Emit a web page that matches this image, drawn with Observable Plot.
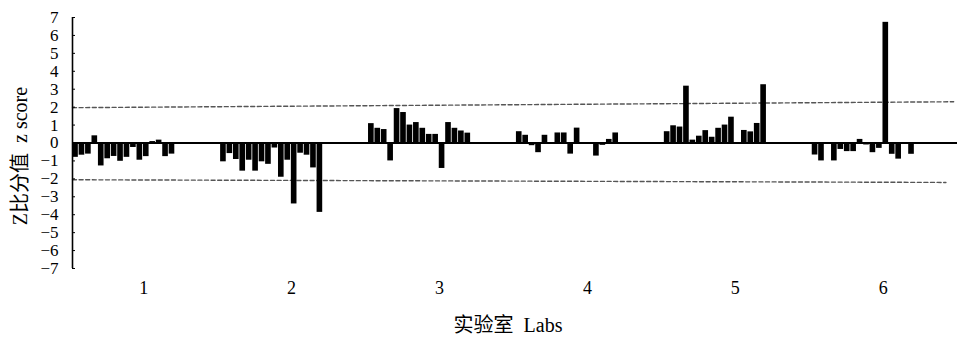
<!DOCTYPE html>
<html><head><meta charset="utf-8">
<script src="https://cdn.jsdelivr.net/npm/d3@7"></script>
<script src="https://cdn.jsdelivr.net/npm/@observablehq/plot@0.6"></script>
<style>body{margin:0;background:#fff}</style>
</head><body><div id="chart"></div>
<script>
// ---- data ----
const labs = ["1", "2", "3", "4", "5", "6"];
const lab1 = [-0.8, -0.68, -0.62, 0.4, -1.28, -0.88, -0.75, -1.02, -0.8, -0.25, -0.96, -0.76, 0.08, 0.16, -0.76, -0.62];
const lab2 = [-1.05, -0.59, -0.92, -1.57, -0.96, -1.57, -1.05, -1.19, -0.28, -1.91, -0.96, -3.4, -0.57, -0.68, -1.39, -3.87];
const lab3 = [1.08, 0.82, 0.75, -1.0, 1.92, 1.7, 1.0, 1.14, 0.82, 0.48, 0.48, -1.42, 1.14, 0.82, 0.67, 0.55];
const lab4 = [0.63, 0.43, -0.15, -0.54, 0.43, null, 0.56, 0.56, -0.62, 0.83, null, null, -0.73, -0.13, 0.2, 0.56];
const lab5 = [0.63, 0.96, 0.89, 3.17, 0.16, 0.38, 0.69, 0.32, 0.82, 1.0, 1.44, null, 0.7, 0.62, 1.09, 3.25];
const lab6 = [-0.67, -1.0, null, -1.0, -0.36, -0.48, -0.48, 0.2, -0.11, -0.54, -0.3, 6.73, -0.63, -0.9, null, -0.63];
const upperLimit = [1.97, 2.3];   // dashed line, left end / right end
const lowerLimit = [-2.05, -2.2];
const yTicks = [-7, -6, -5, -4, -3, -2, -1, 0, 1, 2, 3, 4, 5, 6, 7];
const xTitle = "实验室  Labs";
const yTitle = "Z比分值  z score";

// ---- layout helpers ----
const slotsPerLab = 23;
const labelOffset = 10.6;
const xDomain = [-0.47, 137.15];
const labValues = [lab1, lab2, lab3, lab4, lab5, lab6];
const bars = labValues.flatMap((vals, k) =>
  vals.map((z, j) => ({i: k * slotsPerLab + j, z})).filter(d => d.z != null));
const labTicks = labs.map((l, k) => k * slotsPerLab + labelOffset);
const limits = [
  {x: xDomain[0], y: upperLimit[0], s: "u"}, {x: xDomain[1] - 0.6, y: upperLimit[1], s: "u"},
  {x: xDomain[0], y: lowerLimit[0], s: "l"}, {x: xDomain[1] - 1.8, y: lowerLimit[1], s: "l"}
];

const plot = Plot.plot({
  width: 957, height: 339,
  marginLeft: 72, marginRight: 0, marginTop: 17, marginBottom: 71,
  style: {fontFamily: '"Liberation Serif", "Noto Sans CJK SC", serif', fontSize: "18px", background: "white", color: "black"},
  x: {domain: xDomain},
  y: {domain: [-7, 7]},
  marks: [
    Plot.line(limits, {x: "x", y: "y", z: "s", stroke: "#555", strokeWidth: 1.4, strokeDasharray: "4,2.6"}),
    Plot.rect(bars, {x1: d => d.i - 0.5, x2: d => d.i + 0.5, y1: 0, y2: "z", fill: "black", insetLeft: 0.4, insetRight: 0.4}),
    Plot.ruleY([0], {stroke: "black", strokeWidth: 2}),
    Plot.ruleX([xDomain[0]], {y1: -7, y2: 7, stroke: "black", strokeWidth: 1.6}),
    Plot.axisY({ticks: yTicks, tickSize: -3, tickPadding: 17, label: null, fontSize: 17}),
    Plot.axisX({ticks: labTicks, tickFormat: d => labs[Math.round((d - labelOffset) / slotsPerLab)], tickSize: 0, tickPadding: 13, label: null, fontSize: 18}),
    Plot.text([xTitle], {frameAnchor: "bottom", dx: -7, dy: 63, fontSize: 20}),
    Plot.text([yTitle], {frameAnchor: "left", textAnchor: "middle", rotate: -90, dx: -52, dy: 13, fontSize: 20})
  ]
});
document.getElementById("chart").append(plot);
</script>
</body></html>
